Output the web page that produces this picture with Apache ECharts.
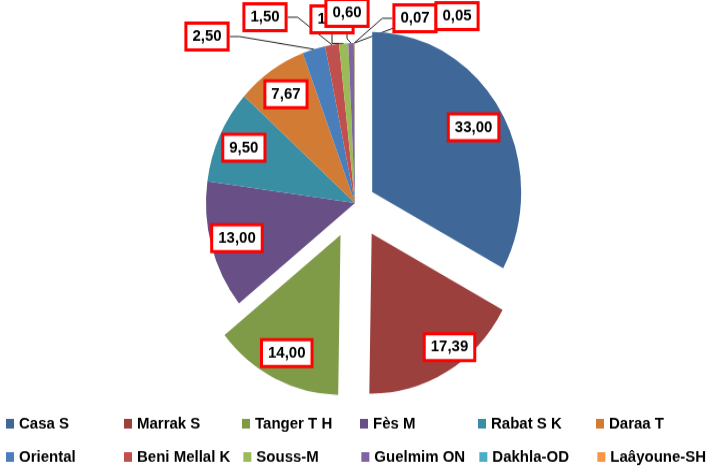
<!DOCTYPE html>
<html>
<head>
<meta charset="utf-8">
<title>Pie regions</title>
<script src="https://cdn.jsdelivr.net/npm/echarts@6/dist/echarts.min.js"></script>
<style>
  html, body { margin: 0; padding: 0; background: #fff; overflow: hidden; width: 717px; height: 473px; }
  /* the original picture is a bit taller than wide, so stretch the chart vertically */
  #main { width: 717px; height: 440px; transform: scaleY(1.074); transform-origin: 0 0; }
</style>
</head>
<body>
<div id="main"></div>
<script>
var regions = ['Casa S', 'Marrak S', 'Tanger T H', 'Fès M', 'Rabat S K', 'Daraa T',
               'Oriental', 'Beni Mellal K', 'Souss-M', 'Guelmim ON', 'Dakhla-OD', 'Laâyoune-SH'];
var values = [33.00, 17.39, 14.00, 13.00, 9.50, 7.67, 2.50, 1.50, 1.00, 0.60, 0.07, 0.05];
var colors = ['#3f6797', '#9c403e', '#7f9b48', '#684f86', '#3a8ea3', '#d27b35',
              '#4a7ebb', '#c0504d', '#9bbb59', '#8064a2', '#4bacc6', '#f79646'];
var exploded = ['Casa S', 'Marrak S', 'Tanger T H'];

var CENTER = [355, 189];
var R = 149;
var NONE = 'rgba(0,0,0,0)';

// spots of the small labels along the top (layout only)
var topLabelSpots = { 6: [207, 34], 7: [265, 16], 8: [332, 18], 9: [347, 12], 10: [415, 17], 11: [457, 15] };

function fmt(v) { return v.toFixed(2).replace('.', ','); }

var labelBox = {
  color: '#000',
  fontFamily: 'Liberation Sans',
  fontWeight: 'bold',
  fontSize: 15,
  backgroundColor: '#fff',
  borderColor: '#ff0000',
  borderWidth: 3,
  padding: [4, 5, 3, 5],
  formatter: function (p) { return fmt(p.value); }
};

// drawn slices: "casa" series holds only Casa S, "rest" series the others
function sliceData(onlyCasa) {
  return regions.map(function (name, i) {
    var mine = onlyCasa ? i === 0 : i > 0;
    var small = i >= 6;
    return {
      name: name,
      value: values[i],
      selected: exploded.indexOf(name) >= 0,
      itemStyle: { color: mine ? colors[i] : NONE },
      label: Object.assign({ show: mine && small, position: 'outside' }, labelBox),
      labelLine: { show: mine && small, length: 10, length2: 10, lineStyle: { color: '#222', width: 1 } }
    };
  });
}

// transparent rings that only carry the value labels of the big slices
function labelData(onlyCasa) {
  return regions.map(function (name, i) {
    var mine = onlyCasa ? i === 0 : (i > 0 && i < 6);
    return {
      name: name,
      value: values[i],
      selected: exploded.indexOf(name) >= 0,
      label: Object.assign({ show: mine, position: 'inside' }, labelBox)
    };
  });
}

// one legend per row, six columns each
function legendRow(from, top) {
  return {
    left: 6,
    top: top,
    padding: 0,
    itemWidth: 8,
    itemHeight: 9,
    itemGap: 13,
    icon: 'rect',
    data: regions.slice(from, from + 6).map(function (name, k) {
      return { name: name, itemStyle: { color: colors[from + k] } };
    }),
    formatter: '{a|{name}}',
    textStyle: {
      rich: {
        a: {
          fontFamily: 'Liberation Sans',
          fontWeight: 'bold',
          fontSize: 15,
          color: '#000',
          width: 92,
          lineHeight: 18
        }
      }
    }
  };
}

var baseSeries = {
  type: 'pie',
  center: CENTER,
  startAngle: 90,
  clockwise: true,
  selectedMode: 'multiple',
  minShowLabelAngle: 0,
  avoidLabelOverlap: false,
  emphasis: { disabled: true },
  animation: false
};

var chart = echarts.init(document.getElementById('main'));
chart.setOption({
  animation: false,
  legend: [legendRow(0, 387), legendRow(6, 418)],
  series: [
    Object.assign({}, baseSeries, {
      name: 'rest',
      radius: [0, R],
      selectedOffset: 33,
      itemStyle: { borderWidth: 0 },
      labelLayout: function (p) {
        var spot = topLabelSpots[p.dataIndex];
        if (!spot) return {};
        return { x: spot[0], y: spot[1], align: 'center', verticalAlign: 'middle' };
      },
      data: sliceData(false)
    }),
    Object.assign({}, baseSeries, {
      name: 'casa',
      radius: [0, R],
      selectedOffset: 20,
      itemStyle: { borderWidth: 0 },
      data: sliceData(true)
    }),
    Object.assign({}, baseSeries, {
      name: 'restLabels',
      radius: [90, R],
      selectedOffset: 33,
      silent: true,
      itemStyle: { color: NONE, borderWidth: 0 },
      labelLine: { show: false },
      labelLayout: function (p) {
        // the Marrak label sits a little further out in the original
        return p.dataIndex === 1 ? { dx: 16, dy: 0 } : {};
      },
      data: labelData(false)
    }),
    Object.assign({}, baseSeries, {
      name: 'casaLabels',
      radius: [81, R],
      selectedOffset: 20,
      silent: true,
      itemStyle: { color: NONE, borderWidth: 0 },
      labelLine: { show: false },
      data: labelData(true)
    })
  ]
});
</script>
</body>
</html>
